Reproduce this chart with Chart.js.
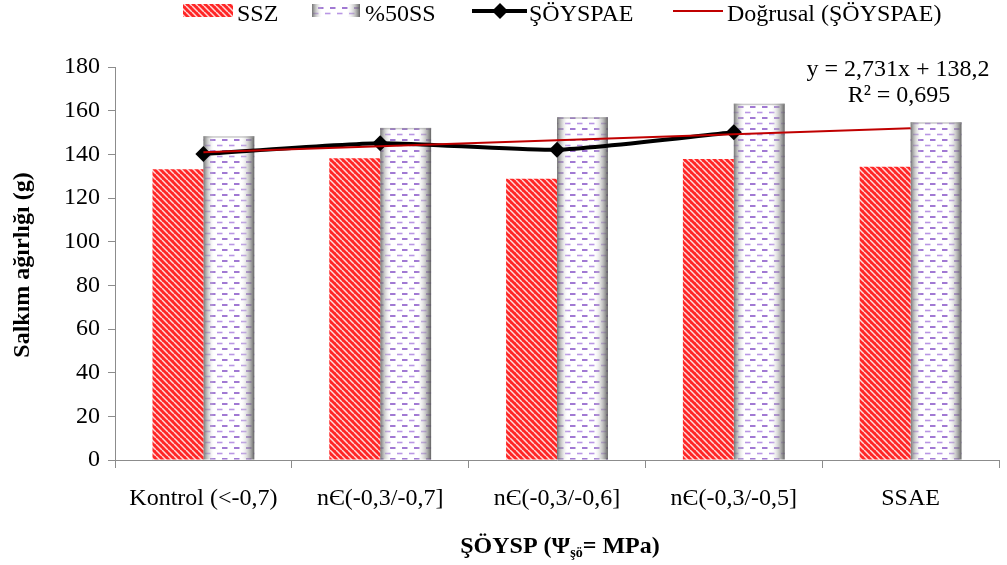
<!DOCTYPE html>
<html><head><meta charset="utf-8">
<script src="https://cdn.jsdelivr.net/npm/chart.js@4/dist/chart.umd.min.js"></script>
<style>html,body{margin:0;padding:0;background:#fff}#wrap{width:1007px;height:565px;position:relative}</style>
</head><body><div id="wrap"><canvas id="c"></canvas></div>
<script>
// ---- data ----
const categories = ['Kontrol (<-0,7)', 'nЄ(-0,3/-0,7]', 'nЄ(-0,3/-0,6]', 'nЄ(-0,3/-0,5]', 'SSAE'];
const sszValues = [133.2, 138.2, 128.8, 137.9, 134.3];
const ss50Values = [148.3, 152.1, 157.0, 163.2, 154.7];
const soyspaeValues = [140.2, 145.1, 142.1, 150.1, null];
const trendValues = [140.9, null, null, null, 151.9];
const seriesNames = ['SSZ', '%50SS', 'ŞÖYSPAE', 'Doğrusal (ŞÖYSPAE)'];
const yMin = 0, yMax = 180, yStep = 20;
const equationLines = ['y = 2,731x + 138,2', 'R² = 0,695'];
const xTitleParts = ['ŞÖYSP (Ψ', 'şö', '= MPa)'];
const yTitleText = 'Salkım ağırlığı (g)';

// ---- styles ----
const FONT = 'Liberation Serif';
const canvas = document.getElementById('c');
const ctx0 = canvas.getContext('2d');

function stripePattern(ctx) {
  const c = document.createElement('canvas'); c.width = 6; c.height = 6;
  const g = c.getContext('2d');
  g.fillStyle = '#ff2626'; g.fillRect(0, 0, 6, 6);
  g.strokeStyle = 'rgba(255,225,225,0.95)'; g.lineWidth = 1.5;
  for (let k = -6; k <= 6; k += 6) { g.beginPath(); g.moveTo(k, 0); g.lineTo(k + 6, 6); g.stroke(); }
  return ctx.createPattern(c, 'repeat');
}
function dashPattern(ctx) {
  const c = document.createElement('canvas'); c.width = 12; c.height = 11;
  const g = c.getContext('2d');
  g.fillStyle = '#ffffff'; g.fillRect(0, 0, 12, 11);
  g.lineWidth = 1.6;
  g.strokeStyle = '#b996e4'; g.beginPath(); g.moveTo(1, 2.5); g.lineTo(6.5, 2.5); g.stroke();
  g.strokeStyle = '#8a58c8'; g.beginPath(); g.moveTo(6, 8); g.lineTo(11.5, 8); g.stroke();
  return ctx.createPattern(c, 'repeat');
}
const stripes = stripePattern(ctx0);
const dashes = dashPattern(ctx0);

function shadeRect(ctx, x0, y0, w, h) {
  const gr = ctx.createLinearGradient(x0, 0, x0 + w, 0);
  gr.addColorStop(0, 'rgba(100,100,100,0.9)');
  gr.addColorStop(0.22, 'rgba(255,255,255,0)');
  gr.addColorStop(0.72, 'rgba(255,255,255,0)');
  gr.addColorStop(0.9, 'rgba(150,150,150,0.6)');
  gr.addColorStop(1, 'rgba(90,90,90,0.95)');
  ctx.fillStyle = gr; ctx.fillRect(x0, y0, w, h);
}

const shadePlugin = {
  id: 'shade',
  afterDatasetDraw(chart, args) {
    if (args.index !== 1) return;
    const ctx = chart.ctx;
    ctx.save();
    args.meta.data.forEach(el => {
      const w = el.width, x0 = el.x - w / 2, y0 = el.y, h = el.base - el.y;
      shadeRect(ctx, x0, y0, w, h);
      ctx.fillStyle = 'rgba(150,150,150,0.5)';
      ctx.fillRect(x0, y0, w, 1.5);
    });
    ctx.restore();
  }
};

const textPlugin = {
  id: 'texts',
  afterDraw(chart) {
    const ctx = chart.ctx;
    ctx.save();
    ctx.fillStyle = '#000';
    ctx.textBaseline = 'alphabetic';
    ctx.font = `24px "${FONT}"`;
    ctx.textAlign = 'left';
    ctx.fillStyle = stripes; ctx.fillRect(183, 4, 50, 13);
    ctx.fillStyle = '#000'; ctx.fillText(seriesNames[0], 237, 21);
    ctx.fillStyle = dashes; ctx.fillRect(312, 4, 48, 13);
    shadeRect(ctx, 312, 4, 48, 13);
    ctx.fillStyle = '#000'; ctx.fillText(seriesNames[1], 365, 21);
    ctx.strokeStyle = '#000'; ctx.lineWidth = 4;
    ctx.beginPath(); ctx.moveTo(472, 11); ctx.lineTo(527, 11); ctx.stroke();
    ctx.beginPath(); ctx.moveTo(500, 3); ctx.lineTo(508, 11); ctx.lineTo(500, 19); ctx.lineTo(492, 11); ctx.closePath(); ctx.fill();
    ctx.fillText(seriesNames[2], 529, 21);
    ctx.strokeStyle = '#c00000'; ctx.lineWidth = 2;
    ctx.beginPath(); ctx.moveTo(673, 11); ctx.lineTo(723, 11); ctx.stroke();
    ctx.fillText(seriesNames[3], 727, 21);
    ctx.textAlign = 'center';
    ctx.fillText(equationLines[0], 898, 76);
    ctx.fillText(equationLines[1], 899, 102);
    ctx.save();
    ctx.translate(29, 265); ctx.rotate(-Math.PI / 2);
    ctx.font = `bold 24px "${FONT}"`;
    ctx.fillText(yTitleText, 0, 0);
    ctx.restore();
    ctx.textAlign = 'left';
    const fMain = `bold 24px "${FONT}"`, fSub = `bold 14px "${FONT}"`;
    ctx.font = fMain; const w0 = ctx.measureText(xTitleParts[0]).width;
    const w2 = ctx.measureText(xTitleParts[2]).width;
    ctx.font = fSub; const w1 = ctx.measureText(xTitleParts[1]).width;
    let x = 560 - (w0 + w1 + w2) / 2;
    const base = 553;
    ctx.font = fMain; ctx.fillText(xTitleParts[0], x, base); x += w0;
    ctx.font = fSub; ctx.fillText(xTitleParts[1], x, base + 4); x += w1;
    ctx.font = fMain; ctx.fillText(xTitleParts[2], x, base);
    ctx.restore();
  }
};

new Chart(canvas, {
  data: {
    labels: categories,
    datasets: [
      { type: 'bar', label: seriesNames[0], data: sszValues, backgroundColor: stripes, borderWidth: 0, order: 2 },
      { type: 'bar', label: seriesNames[1], data: ss50Values, backgroundColor: dashes, borderWidth: 0, order: 2 },
      { type: 'line', label: seriesNames[2], data: soyspaeValues, borderColor: '#000', backgroundColor: '#000', borderWidth: 4,
        pointStyle: 'rectRot', pointRadius: 8, pointBackgroundColor: '#000', pointBorderWidth: 0, tension: 0.2, order: 1 },
      { type: 'line', label: seriesNames[3], data: trendValues, borderColor: '#c00000', borderWidth: 2, pointRadius: 0,
        spanGaps: true, tension: 0, order: 0 }
    ]
  },
  options: {
    responsive: true, maintainAspectRatio: false, animation: false,
    layout: { padding: { top: 67, right: 7, left: 0, bottom: 0 } },
    plugins: { legend: { display: false }, tooltip: { enabled: false } },
    datasets: { bar: { categoryPercentage: 0.576, barPercentage: 1 } },
    scales: {
      x: {
        grid: { display: true, drawOnChartArea: false, offset: true, tickLength: 8, color: '#8c8c8c' },
        border: { color: '#8c8c8c', width: 1 },
        ticks: { font: { family: FONT, size: 24 }, color: '#000', padding: 16, maxRotation: 0, autoSkip: false },
        afterFit(s) { s.height = 105; }
      },
      y: {
        min: yMin, max: yMax,
        grid: { drawOnChartArea: false, tickLength: 7, color: '#8c8c8c' },
        border: { color: '#8c8c8c', width: 1 },
        ticks: { stepSize: yStep, font: { family: FONT, size: 24 }, color: '#000', padding: 8 },
        afterFit(s) { s.width = 115; }
      }
    }
  },
  plugins: [shadePlugin, textPlugin]
});
</script>
</body></html>
